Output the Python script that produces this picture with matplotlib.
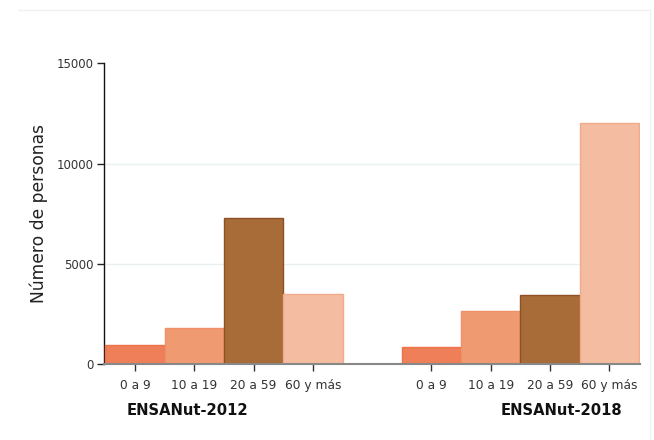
import matplotlib
matplotlib.use("Agg")
import matplotlib.pyplot as plt
from matplotlib.lines import Line2D

categories = ["0 a 9", "10 a 19", "20 a 59", "60 y más"]
groups = ["ENSANut-2012", "ENSANut-2018"]
values_2012 = [950, 1780, 7300, 3500]
values_2018 = [850, 2650, 3450, 12000]
y_ticks = [0, 5000, 10000, 15000]

fills = ["#EE7F58", "#F09A72", "#A86C38", "#F4BDA2"]
edges = ["#EC7448", "#EF9068", "#8E5024", "#F2AB88"]

plt.rcParams['font.family'] = ['DejaVu Sans']
fig = plt.figure(figsize=(6.54, 4.40), dpi=100)
ax = fig.add_axes([104.3/654, (440-364)/440, (640-104.3)/654, (364-63.3)/440])

positions = []
labels = []
for gi, vals in enumerate([values_2012, values_2018]):
    for ci, v in enumerate(vals):
        x = gi * 5 + ci
        ax.bar(x, v, width=1.0, color=fills[ci], edgecolor=edges[ci], linewidth=1.0, zorder=3)
        positions.append(x)
        labels.append(categories[ci])

ax.set_xlim(-0.52, 8.52)
ax.set_ylim(0, 15000)
ax.set_xticks(positions)
ax.set_xticklabels(labels, fontsize=8.8, color="#333333")
ax.set_yticks(y_ticks)
ax.set_yticklabels([str(t) for t in y_ticks], fontsize=8.5, color="#333333")
ax.tick_params(axis='x', length=5, width=1, color="#333333", pad=6)
ax.tick_params(axis='y', length=5, width=1, color="#222222", pad=3)

for t in [5000, 10000]:
    ax.axhline(t, color="#EAF0F0", linewidth=1, zorder=1)

for s in ["top", "right"]:
    ax.spines[s].set_visible(False)
ax.spines["left"].set_color("#111111")
ax.spines["left"].set_linewidth(1)
ax.spines["bottom"].set_color("#888888")
ax.spines["bottom"].set_linewidth(1.5)
ax.spines["bottom"].set_zorder(4)

ax.set_ylabel("Número de personas", fontsize=12.3, color="#222222", labelpad=6)

fig.text(187.6/654, 1 - 410/440, groups[0], ha="center", va="center",
         fontsize=10.6, fontweight="bold", color="#111111")
fig.text(561/654, 1 - 410/440, groups[1], ha="center", va="center",
         fontsize=10.6, fontweight="bold", color="#111111")

# faint outer frame
fig.add_artist(Line2D([18/654, 650/654], [1 - 10/440, 1 - 10/440], color="#F0F0F0", linewidth=1, transform=fig.transFigure))
fig.add_artist(Line2D([650/654, 650/654], [1 - 10/440, 0], color="#F0F0F0", linewidth=1, transform=fig.transFigure))

fig.savefig("out.png", dpi=100)
